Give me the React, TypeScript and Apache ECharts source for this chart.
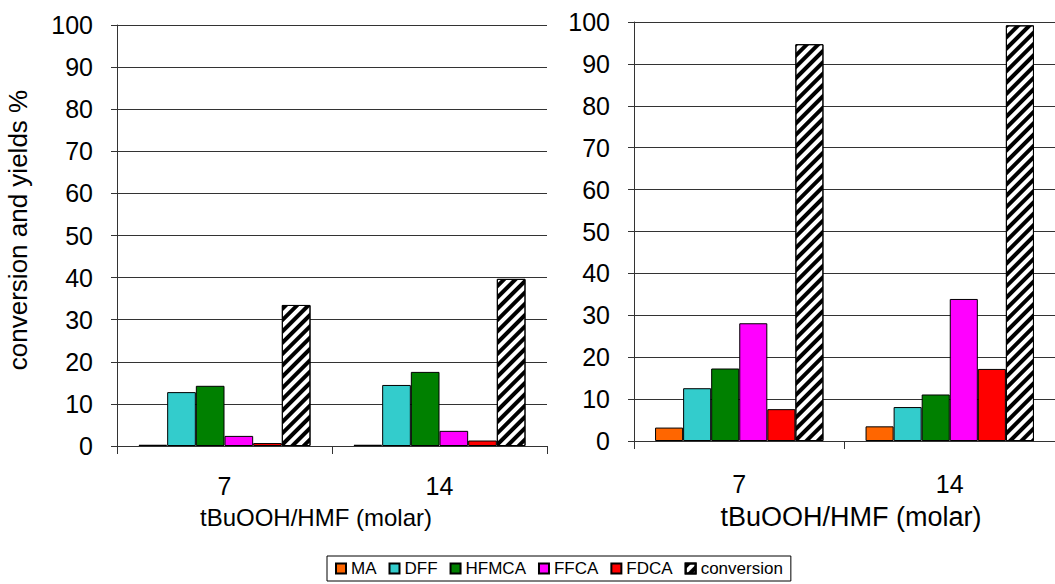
import React, { useEffect, useRef } from "react";
import * as echarts from "echarts";

const categories = ["7", "14"];
const seriesNames = ["MA", "DFF", "HFMCA", "FFCA", "FDCA", "conversion"];
const seriesColors = ["#FF6600", "#33CCCC", "#008000", "#FF00FF", "#FF0000", "#FFFFFF"];
// left panel values [7, 14]
const leftMA = [0.3, 0.3];
const leftDFF = [12.8, 14.5];
const leftHFMCA = [14.3, 17.6];
const leftFFCA = [2.4, 3.6];
const leftFDCA = [0.7, 1.3];
const leftConversion = [33.5, 39.7];
// right panel values [7, 14]
const rightMA = [3.2, 3.5];
const rightDFF = [12.6, 8.1];
const rightHFMCA = [17.3, 11.1];
const rightFFCA = [28.1, 33.9];
const rightFDCA = [7.6, 17.2];
const rightConversion = [94.7, 99.2];
const yTicks = { min: 0, max: 100, interval: 10 };
const yTitle = "conversion and yields %";
const xTitle = "tBuOOH/HMF (molar)";

const FONT = "Liberation Sans, Arial, sans-serif";

export default function App() {
  const ref = useRef<HTMLDivElement>(null);
  useEffect(() => {
    if (!ref.current) return;
    const chart = echarts.init(ref.current, null, { renderer: "svg" });
    const leftData = [leftMA, leftDFF, leftHFMCA, leftFFCA, leftFDCA, leftConversion];
    const rightData = [rightMA, rightDFF, rightHFMCA, rightFFCA, rightFDCA, rightConversion];
    const hatch = {
      symbol: "rect",
      symbolSize: 1,
      color: "#000",
      backgroundColor: "#fff",
      dashArrayX: [1, 0],
      dashArrayY: [4, 4],
      rotation: -Math.PI / 4,
    };
    const mkSeries = (data: number[][], idx: number) =>
      seriesNames.map((name, i) => ({
        name,
        type: "bar",
        xAxisIndex: idx,
        yAxisIndex: idx,
        data: data[i],
        barGap: "0%",
        barCategoryGap: "20%",
        itemStyle: {
          color: seriesColors[i],
          borderColor: "#000",
          borderWidth: 1,
          ...(name === "conversion" ? { decal: hatch } : {}),
        },
      }));
    const xAxisBase = (gridIndex: number, margin: number) => ({
      type: "category",
      gridIndex,
      data: categories,
      axisLine: { lineStyle: { color: "#333", width: 1 } },
      axisTick: { show: true, length: 8, lineStyle: { color: "#333" } },
      axisLabel: { color: "#000", fontSize: 25, fontFamily: FONT, margin },
    });
    const yAxisBase = (gridIndex: number) => ({
      type: "value",
      gridIndex,
      ...yTicks,
      axisLine: { show: true, lineStyle: { color: "#333", width: 1 } },
      axisTick: { show: true, length: 6, inside: false, lineStyle: { color: "#333" } },
      axisLabel: { color: "#000", fontSize: 25, fontFamily: FONT, margin: 24 },
      splitLine: { show: true, lineStyle: { color: "#333", width: 1 } },
    });
    chart.setOption({
      animation: false,
      backgroundColor: "#fff",
      textStyle: { fontFamily: FONT },
      grid: [
        { left: 117, top: 25, width: 430, height: 421 },
        { left: 634, top: 22, width: 428, height: 419 },
      ],
      xAxis: [xAxisBase(0, 27), xAxisBase(1, 30)],
      yAxis: [yAxisBase(0), yAxisBase(1)],
      legend: {
        data: seriesNames,
        left: 327,
        top: 556,
        orient: "horizontal",
        itemWidth: 10,
        itemHeight: 10,
        itemGap: 12,
        padding: [4, 8, 4, 8],
        borderColor: "#000",
        borderWidth: 1,
        textStyle: { fontSize: 17, color: "#000", fontFamily: FONT },
        icon: "rect",
        selectedMode: false,
      },
      graphic: [
        {
          type: "text",
          x: 18,
          y: 230,
          rotation: Math.PI / 2,
          style: {
            text: yTitle,
            fontSize: 26,
            fontFamily: FONT,
            fill: "#000",
            align: "center",
            verticalAlign: "middle",
          },
        },
        {
          type: "text",
          x: 316,
          y: 517,
          style: {
            text: xTitle,
            fontSize: 24,
            fontFamily: FONT,
            fill: "#000",
            align: "center",
            verticalAlign: "middle",
          },
        },
        {
          type: "text",
          x: 851,
          y: 517,
          style: {
            text: xTitle,
            fontSize: 27,
            fontFamily: FONT,
            fill: "#000",
            align: "center",
            verticalAlign: "middle",
          },
        },
      ],
      series: [...mkSeries(leftData, 0), ...mkSeries(rightData, 1)],
    });
    return () => chart.dispose();
  }, []);
  return <div ref={ref} style={{ width: 1055, height: 584, position: "absolute", left: 0, top: 0 }} />;
}
